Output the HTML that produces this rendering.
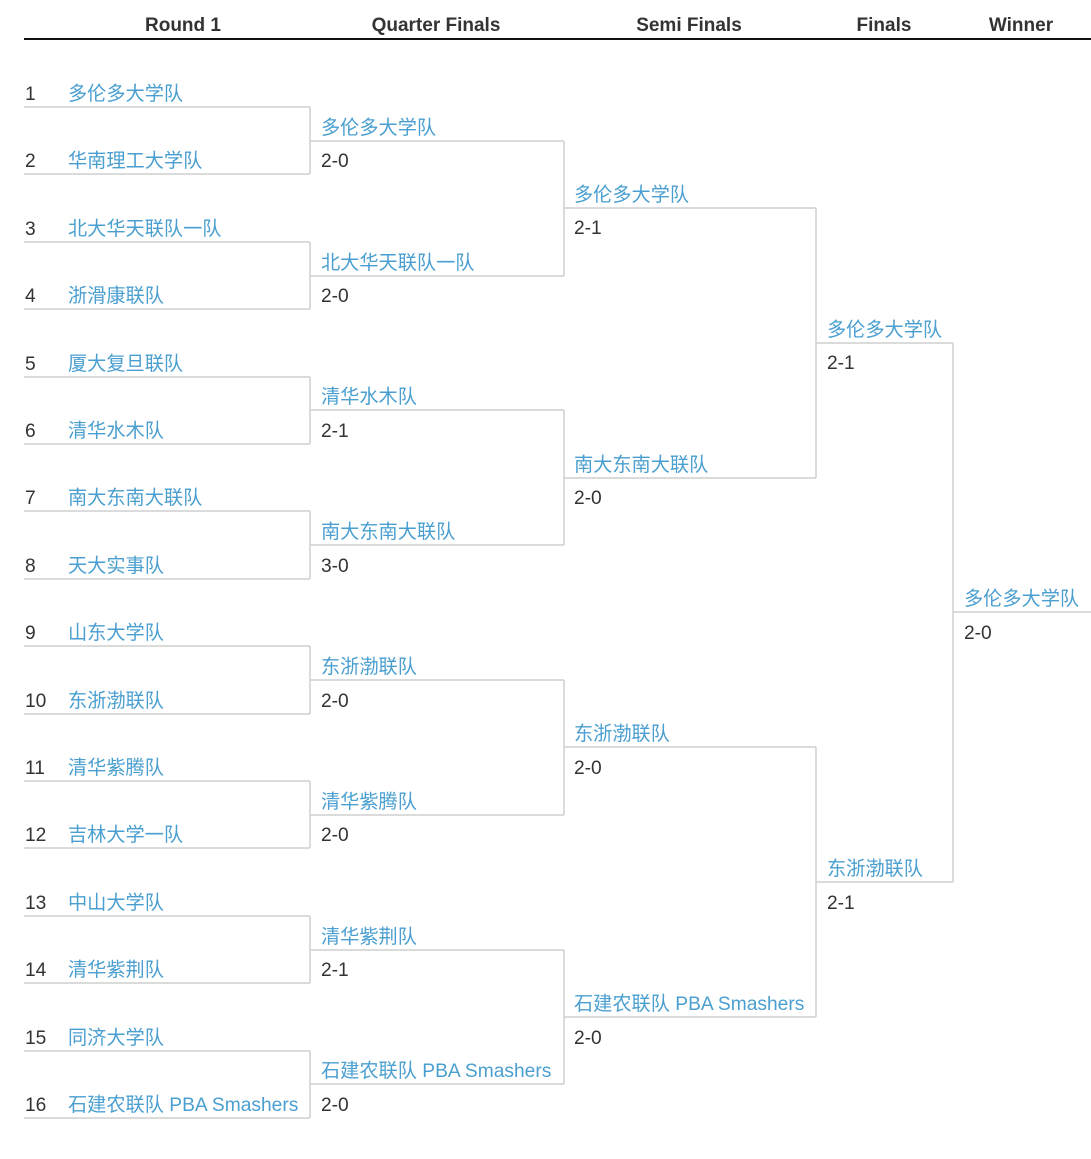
<!DOCTYPE html>
<html><head><meta charset="utf-8"><style>
html,body{margin:0;padding:0;background:#fff;}
svg{display:block;}
text{font-family:"Liberation Sans","Noto Sans CJK SC",sans-serif;font-size:19.2px;}
.h{font-weight:bold;fill:#333;text-anchor:middle;font-size:19px;}
.n{fill:#4a9fd0;}
.s{fill:#333;}
line{stroke:#cfcfcf;stroke-width:1.5;}
</style></head><body>
<svg width="1091" height="1159" viewBox="0 0 1091 1159">
<text class="h" x="183" y="31">Round 1</text>
<text class="h" x="436" y="31">Quarter Finals</text>
<text class="h" x="689" y="31">Semi Finals</text>
<text class="h" x="884" y="31">Finals</text>
<text class="h" x="1021" y="31">Winner</text>
<line x1="24" y1="39" x2="1091" y2="39" style="stroke:#111;stroke-width:2"/>

<g>
<line x1="24" y1="107" x2="310" y2="107"/><line x1="24" y1="174" x2="310" y2="174"/><line x1="310" y1="107" x2="310" y2="174"/>
<line x1="24" y1="242" x2="310" y2="242"/><line x1="24" y1="309" x2="310" y2="309"/><line x1="310" y1="242" x2="310" y2="309"/>
<line x1="24" y1="377" x2="310" y2="377"/><line x1="24" y1="444" x2="310" y2="444"/><line x1="310" y1="377" x2="310" y2="444"/>
<line x1="24" y1="511" x2="310" y2="511"/><line x1="24" y1="579" x2="310" y2="579"/><line x1="310" y1="511" x2="310" y2="579"/>
<line x1="24" y1="646" x2="310" y2="646"/><line x1="24" y1="714" x2="310" y2="714"/><line x1="310" y1="646" x2="310" y2="714"/>
<line x1="24" y1="781" x2="310" y2="781"/><line x1="24" y1="848" x2="310" y2="848"/><line x1="310" y1="781" x2="310" y2="848"/>
<line x1="24" y1="916" x2="310" y2="916"/><line x1="24" y1="983" x2="310" y2="983"/><line x1="310" y1="916" x2="310" y2="983"/>
<line x1="24" y1="1051" x2="310" y2="1051"/><line x1="24" y1="1118" x2="310" y2="1118"/><line x1="310" y1="1051" x2="310" y2="1118"/>
</g>
<text class="s" x="25" y="100">1</text><text class="s" x="25" y="167">2</text>
<text class="s" x="25" y="235">3</text><text class="s" x="25" y="302">4</text>
<text class="s" x="25" y="370">5</text><text class="s" x="25" y="437">6</text>
<text class="s" x="25" y="504">7</text><text class="s" x="25" y="572">8</text>
<text class="s" x="25" y="639">9</text><text class="s" x="25" y="707">10</text>
<text class="s" x="25" y="774">11</text><text class="s" x="25" y="841">12</text>
<text class="s" x="25" y="909">13</text><text class="s" x="25" y="976">14</text>
<text class="s" x="25" y="1044">15</text><text class="s" x="25" y="1111">16</text>
<text class="n" x="68" y="100">多伦多大学队</text>
<text class="n" x="68" y="167">华南理工大学队</text>
<text class="n" x="68" y="235">北大华天联队一队</text>
<text class="n" x="68" y="302">浙滑康联队</text>
<text class="n" x="68" y="370">厦大复旦联队</text>
<text class="n" x="68" y="437">清华水木队</text>
<text class="n" x="68" y="504">南大东南大联队</text>
<text class="n" x="68" y="572">天大实事队</text>
<text class="n" x="68" y="639">山东大学队</text>
<text class="n" x="68" y="707">东浙渤联队</text>
<text class="n" x="68" y="774">清华紫腾队</text>
<text class="n" x="68" y="841">吉林大学一队</text>
<text class="n" x="68" y="909">中山大学队</text>
<text class="n" x="68" y="976">清华紫荆队</text>
<text class="n" x="68" y="1044">同济大学队</text>
<text class="n" x="68" y="1111">石建农联队 PBA Smashers</text>

<line x1="310" y1="141" x2="564" y2="141"/><line x1="310" y1="276" x2="564" y2="276"/><line x1="564" y1="141" x2="564" y2="276"/>
<line x1="310" y1="410" x2="564" y2="410"/><line x1="310" y1="545" x2="564" y2="545"/><line x1="564" y1="410" x2="564" y2="545"/>
<line x1="310" y1="680" x2="564" y2="680"/><line x1="310" y1="815" x2="564" y2="815"/><line x1="564" y1="680" x2="564" y2="815"/>
<line x1="310" y1="950" x2="564" y2="950"/><line x1="310" y1="1084" x2="564" y2="1084"/><line x1="564" y1="950" x2="564" y2="1084"/>
<text class="n" x="321" y="134">多伦多大学队</text><text class="s" x="321" y="167">2-0</text>
<text class="n" x="321" y="269">北大华天联队一队</text><text class="s" x="321" y="302">2-0</text>
<text class="n" x="321" y="403">清华水木队</text><text class="s" x="321" y="437">2-1</text>
<text class="n" x="321" y="538">南大东南大联队</text><text class="s" x="321" y="572">3-0</text>
<text class="n" x="321" y="673">东浙渤联队</text><text class="s" x="321" y="707">2-0</text>
<text class="n" x="321" y="808">清华紫腾队</text><text class="s" x="321" y="841">2-0</text>
<text class="n" x="321" y="943">清华紫荆队</text><text class="s" x="321" y="976">2-1</text>
<text class="n" x="321" y="1077">石建农联队 PBA Smashers</text><text class="s" x="321" y="1111">2-0</text>

<line x1="564" y1="208" x2="816" y2="208"/><line x1="564" y1="478" x2="816" y2="478"/><line x1="816" y1="208" x2="816" y2="478"/>
<line x1="564" y1="747" x2="816" y2="747"/><line x1="564" y1="1017" x2="816" y2="1017"/><line x1="816" y1="747" x2="816" y2="1017"/>
<text class="n" x="574" y="201">多伦多大学队</text><text class="s" x="574" y="234">2-1</text>
<text class="n" x="574" y="471">南大东南大联队</text><text class="s" x="574" y="504">2-0</text>
<text class="n" x="574" y="740">东浙渤联队</text><text class="s" x="574" y="774">2-0</text>
<text class="n" x="574" y="1010">石建农联队 PBA Smashers</text><text class="s" x="574" y="1044">2-0</text>

<line x1="816" y1="343" x2="953" y2="343"/><line x1="816" y1="882" x2="953" y2="882"/><line x1="953" y1="343" x2="953" y2="882"/>
<text class="n" x="827" y="336">多伦多大学队</text><text class="s" x="827" y="369">2-1</text>
<text class="n" x="827" y="875">东浙渤联队</text><text class="s" x="827" y="909">2-1</text>

<line x1="953" y1="612" x2="1091" y2="612"/>
<text class="n" x="964" y="605">多伦多大学队</text><text class="s" x="964" y="639">2-0</text>
</svg>
</body></html>
